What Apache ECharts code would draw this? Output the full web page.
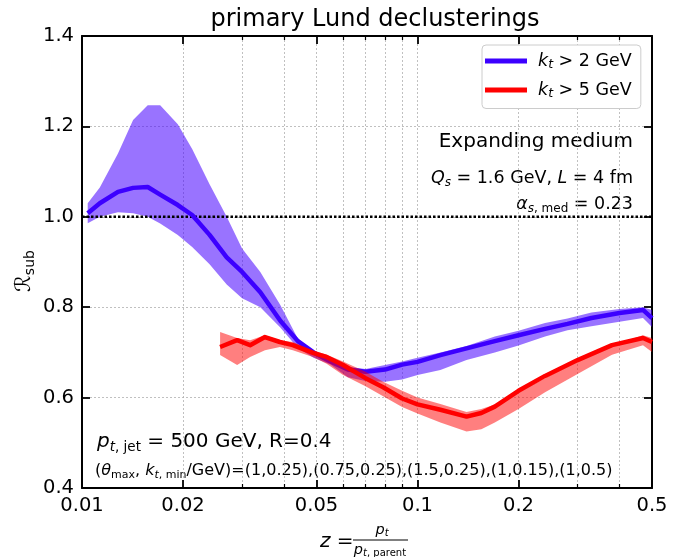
<!DOCTYPE html>
<html>
<head>
<meta charset="utf-8">
<script src="https://cdn.jsdelivr.net/npm/echarts@6/dist/echarts.min.js"></script>
<style>html,body{margin:0;padding:0;background:#fff;}#c{width:677px;height:557px;}</style>
</head>
<body>
<div id="c"></div>
<script>
// ---- data ----
const zMajor = [0.01, 0.02, 0.05, 0.1, 0.2, 0.5];
const zMinor = [0.03, 0.04, 0.06, 0.07, 0.08, 0.09, 0.3, 0.4];
const yTicks = [0.4, 0.6, 0.8, 1.0, 1.2, 1.4];

const zBlue   = [0.0104, 0.0113, 0.0128, 0.0142, 0.0157, 0.0171, 0.0193, 0.0213, 0.0240, 0.0270, 0.0300, 0.0340, 0.0390, 0.0440, 0.0490, 0.0550, 0.0620, 0.0700, 0.0800, 0.0900, 0.100, 0.117, 0.140, 0.170, 0.200, 0.240, 0.280, 0.330, 0.400, 0.470, 0.500];
const blueMid = [1.008, 1.030, 1.055, 1.064, 1.066, 1.049, 1.026, 1.004, 0.960, 0.910, 0.878, 0.833, 0.770, 0.725, 0.700, 0.680, 0.662, 0.657, 0.662, 0.673, 0.679, 0.694, 0.709, 0.725, 0.738, 0.752, 0.763, 0.776, 0.787, 0.794, 0.776];
const blueHi  = [1.030, 1.065, 1.140, 1.214, 1.247, 1.247, 1.205, 1.150, 1.072, 1.000, 0.930, 0.878, 0.805, 0.730, 0.703, 0.685, 0.668, 0.663, 0.672, 0.680, 0.688, 0.700, 0.714, 0.735, 0.748, 0.765, 0.775, 0.788, 0.796, 0.800, 0.794];
const blueLo  = [0.986, 1.000, 1.010, 1.008, 1.000, 0.985, 0.960, 0.933, 0.895, 0.850, 0.820, 0.800, 0.755, 0.710, 0.688, 0.673, 0.645, 0.637, 0.635, 0.640, 0.650, 0.661, 0.683, 0.700, 0.715, 0.735, 0.749, 0.758, 0.768, 0.776, 0.756];

const zRed   = [0.0258, 0.0290, 0.0317, 0.0351, 0.0389, 0.0425, 0.0488, 0.0536, 0.0600, 0.0700, 0.0790, 0.0900, 0.100, 0.117, 0.140, 0.155, 0.170, 0.200, 0.240, 0.300, 0.380, 0.470, 0.500];
const redMid = [0.712, 0.727, 0.716, 0.734, 0.723, 0.716, 0.699, 0.690, 0.672, 0.643, 0.623, 0.598, 0.585, 0.573, 0.558, 0.566, 0.580, 0.615, 0.648, 0.683, 0.716, 0.732, 0.723];
const redHi  = [0.745, 0.732, 0.727, 0.738, 0.727, 0.723, 0.705, 0.695, 0.680, 0.657, 0.635, 0.615, 0.600, 0.586, 0.568, 0.575, 0.585, 0.612, 0.643, 0.683, 0.715, 0.738, 0.732];
const redLo  = [0.694, 0.672, 0.690, 0.705, 0.712, 0.705, 0.690, 0.675, 0.650, 0.625, 0.603, 0.579, 0.565, 0.545, 0.525, 0.530, 0.545, 0.575, 0.612, 0.652, 0.695, 0.716, 0.701];

const refLine = [[0.01, 1.0], [0.5, 1.0]];

// ---- helpers ----
const L = Math.log10;
const FONT = 'DejaVu Sans';
const majorLog = zMajor.map(L);
const minorLog = zMinor.map(L);
const xMin = L(zMajor[0]), xMax = L(zMajor[zMajor.length - 1]);
const gridLine = { show: true, lineStyle: { color: '#b0b0b0', width: 0.8, type: [2, 2] } };

function bandSeries(zs, lo, hi, fill, z) {
  return {
    type: 'custom', silent: true, z: z, clip: true,
    xAxisIndex: 0, yAxisIndex: 0,
    data: zs.map((v, i) => [L(v), lo[i], hi[i]]),
    encode: { x: 0, y: [1, 2] },
    renderItem: function (params, api) {
      if (params.dataIndex !== 0) return null;
      const pts = [];
      for (let i = 0; i < zs.length; i++) pts.push(api.coord([L(zs[i]), hi[i]]));
      for (let i = zs.length - 1; i >= 0; i--) pts.push(api.coord([L(zs[i]), lo[i]]));
      return { type: 'polygon', shape: { points: pts }, style: { fill: fill } };
    }
  };
}
function lineSeries(name, zs, ys, color, z) {
  return {
    name: name, type: 'line', z: z, showSymbol: false, symbol: 'none',
    xAxisIndex: 0, yAxisIndex: 0,
    data: zs.map((v, i) => [L(v), ys[i]]),
    itemStyle: { color: color },
    lineStyle: { color: color, width: 4.5, cap: 'butt', join: 'round' }
  };
}
function rich(size, subSize, lh, subLh) {
  return {
    i:  { fontFamily: FONT, fontSize: size, fontStyle: 'italic', lineHeight: lh, color: '#000' },
    n:  { fontFamily: FONT, fontSize: size, lineHeight: lh, color: '#000' },
    s:  { fontFamily: FONT, fontSize: subSize, verticalAlign: 'bottom', lineHeight: subLh, color: '#000' },
    si: { fontFamily: FONT, fontSize: subSize, fontStyle: 'italic', verticalAlign: 'bottom', lineHeight: subLh, color: '#000' },
    sp: { width: 6 }
  };
}
const axCommon = { type: 'value', min: xMin, max: xMax };
const TICKFONT = 19.5;

const chart = echarts.init(document.getElementById('c'), null, { renderer: 'canvas' });
const option = {
  backgroundColor: '#ffffff',
  animation: false,
  title: {
    text: 'primary Lund declusterings', left: 370, top: 3, textAlign: 'center',
    textStyle: { fontFamily: FONT, fontSize: 24, fontWeight: 'normal', color: '#000' }
  },
  grid: { left: 82, right: 25, top: 36, bottom: 69, containLabel: false },
  legend: {
    left: 482, top: 45, orient: 'vertical', icon: 'rect', itemWidth: 42, itemHeight: 5,
    itemGap: 9.5, padding: [7, 9, 8, 3],
    backgroundColor: '#ffffff', borderColor: '#cccccc', borderWidth: 1, borderRadius: 4,
    data: ['kt > 2 GeV', 'kt > 5 GeV'],
    formatter: function (name) {
      return name === 'kt > 2 GeV' ? '{sp|}{i|k}{si|t}{n| > 2 GeV}' : '{sp|}{i|k}{si|t}{n| > 5 GeV}';
    },
    textStyle: { rich: rich(17.5, 12.5, 21, 13) }
  },
  xAxis: [
    Object.assign({}, axCommon, {
      position: 'bottom',
      axisLine: { show: true, onZero: false, lineStyle: { color: '#000', width: 2 } },
      axisTick: { show: true, inside: true, length: 8, customValues: majorLog, lineStyle: { color: '#000', width: 1.8 } },
      axisLabel: {
        show: true, customValues: majorLog, margin: 8, fontFamily: FONT, fontSize: TICKFONT, color: '#000',
        formatter: function (v) { const i = majorLog.findIndex(t => Math.abs(t - v) < 1e-6); return i >= 0 ? String(zMajor[i]) : ''; }
      },
      splitLine: gridLine
    }),
    Object.assign({}, axCommon, {
      position: 'bottom',
      axisLine: { show: false, onZero: false },
      axisTick: { show: true, inside: true, length: 4, customValues: minorLog, lineStyle: { color: '#000', width: 1.2 } },
      axisLabel: { show: false },
      splitLine: gridLine
    }),
    Object.assign({}, axCommon, {
      position: 'top',
      axisLine: { show: true, onZero: false, lineStyle: { color: '#000', width: 2 } },
      axisTick: { show: true, inside: true, length: 8, customValues: majorLog, lineStyle: { color: '#000', width: 1.8 } },
      axisLabel: { show: false }, splitLine: { show: false }
    }),
    Object.assign({}, axCommon, {
      position: 'top',
      axisLine: { show: false, onZero: false },
      axisTick: { show: true, inside: true, length: 4, customValues: minorLog, lineStyle: { color: '#000', width: 1.2 } },
      axisLabel: { show: false }, splitLine: { show: false }
    })
  ],
  yAxis: [
    {
      type: 'value', min: yTicks[0], max: yTicks[yTicks.length - 1], interval: 0.2, position: 'left',
      axisLine: { show: true, onZero: false, lineStyle: { color: '#000', width: 2 } },
      axisTick: { show: true, inside: true, length: 8, lineStyle: { color: '#000', width: 1.8 } },
      axisLabel: { margin: 8, fontFamily: FONT, fontSize: TICKFONT, color: '#000', formatter: v => v.toFixed(1) },
      splitLine: gridLine
    },
    {
      type: 'value', min: yTicks[0], max: yTicks[yTicks.length - 1], interval: 0.2, position: 'right',
      axisLine: { show: true, onZero: false, lineStyle: { color: '#000', width: 2 } },
      axisTick: { show: true, inside: true, length: 8, lineStyle: { color: '#000', width: 1.8 } },
      axisLabel: { show: false }, splitLine: { show: false }
    }
  ],
  series: [
    bandSeries(zBlue, blueLo, blueHi, 'rgba(70,0,255,0.55)', 2),
    {
      type: 'line', z: 3, silent: true, showSymbol: false, symbol: 'none', xAxisIndex: 0, yAxisIndex: 0,
      data: refLine.map(p => [L(p[0]), p[1]]),
      lineStyle: { color: '#000', width: 2.5, type: [2.5, 2] }
    },
    lineSeries('kt > 2 GeV', zBlue, blueMid, '#3c00ff', 4),
    bandSeries(zRed, redLo, redHi, 'rgba(255,0,0,0.5)', 5),
    lineSeries('kt > 5 GeV', zRed, redMid, '#ff0000', 6)
  ],
  graphic: [
    { type: 'text', x: 633, y: 142, style: { text: 'Expanding medium', fontFamily: FONT, fontSize: 20, fill: '#000', align: 'right', verticalAlign: 'middle' } },
    { type: 'text', x: 633, y: 178, style: {
        text: '{i|Q}{si|s}{n| = 1.6 GeV, }{i|L}{n| = 4 fm}', align: 'right', verticalAlign: 'middle',
        rich: rich(17.5, 12, 21, 13) } },
    { type: 'text', x: 633, y: 204, style: {
        text: '{i|α}{si|s}{s|, med}{n| = 0.23}', align: 'right', verticalAlign: 'middle',
        rich: rich(17.5, 12, 21, 13) } },
    { type: 'text', x: 97, y: 442, style: {
        text: '{i|p}{si|t}{s|, jet}{n| = 500 GeV, R=0.4}', align: 'left', verticalAlign: 'middle',
        rich: rich(20, 13.5, 24, 15) } },
    { type: 'text', x: 95, y: 471, style: {
        text: '{n|(}{i|θ}{s|max}{n|, }{i|k}{si|t}{s|, min}{n|/GeV)=(1,0.25),(0.75,0.25),(1.5,0.25),(1,0.15),(1,0.5)}', align: 'left', verticalAlign: 'middle',
        rich: rich(16, 11, 20, 12) } },
    // x-axis name: z = p_t / p_t,parent
    { type: 'text', x: 320, y: 542, style: {
        text: '{i|z}{n| =}', align: 'left', verticalAlign: 'middle',
        rich: rich(20, 12, 24, 12) } },
    { type: 'line', shape: { x1: 353, y1: 540, x2: 408, y2: 540 }, style: { stroke: '#000', lineWidth: 1 } },
    { type: 'text', x: 382, y: 530, style: {
        text: '{i|p}{si|t}', align: 'center', verticalAlign: 'middle',
        rich: rich(14.5, 10, 17, 10) } },
    { type: 'text', x: 380, y: 550, style: {
        text: '{i|p}{si|t}{s|, parent}', align: 'center', verticalAlign: 'middle',
        rich: rich(14.5, 10, 17, 10) } },
    // y-axis name: R_sub
    { type: 'text', x: 25, y: 271, rotation: Math.PI / 2, style: {
        text: '{i|ℛ}{s|sub}', align: 'center', verticalAlign: 'middle',
        rich: rich(21, 14, 25, 15) } }
  ]
};
chart.setOption(option);
</script>
</body>
</html>
